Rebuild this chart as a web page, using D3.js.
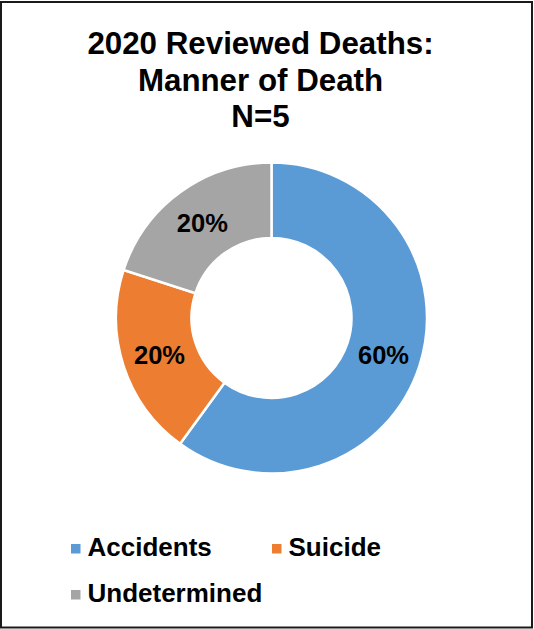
<!DOCTYPE html>
<html>
<head>
<meta charset="utf-8">
<script src="https://cdn.jsdelivr.net/npm/d3@7"></script>
<style>
  html, body { margin: 0; padding: 0; background: #fff; }
  svg { display: block; }
  text { font-family: Arial, "Liberation Sans", sans-serif; font-weight: bold; fill: #000; }
</style>
</head>
<body>
<svg id="chart" width="534" height="629"></svg>
<script>
const titleLines = ["2020 Reviewed Deaths:", "Manner of Death", "N=5"];
const categories = ["Accidents", "Suicide", "Undetermined"];
const values = [3, 1, 1];
const percentLabels = ["60%", "20%", "20%"];
const colors = ["#5B9BD5", "#ED7D31", "#A5A5A5"];

const svg = d3.select("#chart");
const W = 534, H = 629;

svg.append("rect").attr("x", 1).attr("y", 2).attr("width", W - 3).attr("height", H - 3.5)
  .attr("fill", "#fff").attr("stroke", "#1a1a1a").attr("stroke-width", 2);

// Title
const titleBaselines = [54, 90.5, 126.5];
svg.append("g").selectAll("text").data(titleLines).join("text")
  .attr("x", 260.5).attr("y", (d, i) => titleBaselines[i])
  .attr("text-anchor", "middle").style("font-size", "31.3px").text(d => d);

// Donut
const cx = 271.5, cy = 318, outerR = 155.5, innerR = 80;
const pie = d3.pie().sort(null).value(d => d.value);
const arcs = pie(categories.map((c, i) => ({ name: c, value: values[i], label: percentLabels[i], color: colors[i] })));
const arc = d3.arc().innerRadius(innerR).outerRadius(outerR);
const labelArc = d3.arc().innerRadius((innerR + outerR) / 2).outerRadius((innerR + outerR) / 2);

const g = svg.append("g").attr("transform", `translate(${cx},${cy})`);
g.selectAll("path").data(arcs).join("path")
  .attr("d", arc).attr("fill", d => d.data.color)
  .attr("stroke", "#fff").attr("stroke-width", 2.5).attr("stroke-linejoin", "miter");

g.selectAll("text.lbl").data(arcs).join("text").attr("class", "lbl")
  .attr("transform", d => `translate(${labelArc.centroid(d)})`)
  .attr("text-anchor", "middle").attr("dy", "0.36em")
  .style("font-size", "25.5px").text(d => d.data.label);

// Legend
const legendPos = [[71, 556], [272, 556], [71, 602]];
const lg = svg.append("g");
const items = lg.selectAll("g").data(categories).join("g")
  .attr("transform", (d, i) => `translate(${legendPos[i][0]},${legendPos[i][1]})`);
items.append("rect").attr("x", 0).attr("y", -12).attr("width", 9.5).attr("height", 9.5)
  .attr("fill", (d, i) => colors[i]);
items.append("text").attr("x", 16.5).attr("y", 0).style("font-size", "26px").text(d => d);
</script>
</body>
</html>
